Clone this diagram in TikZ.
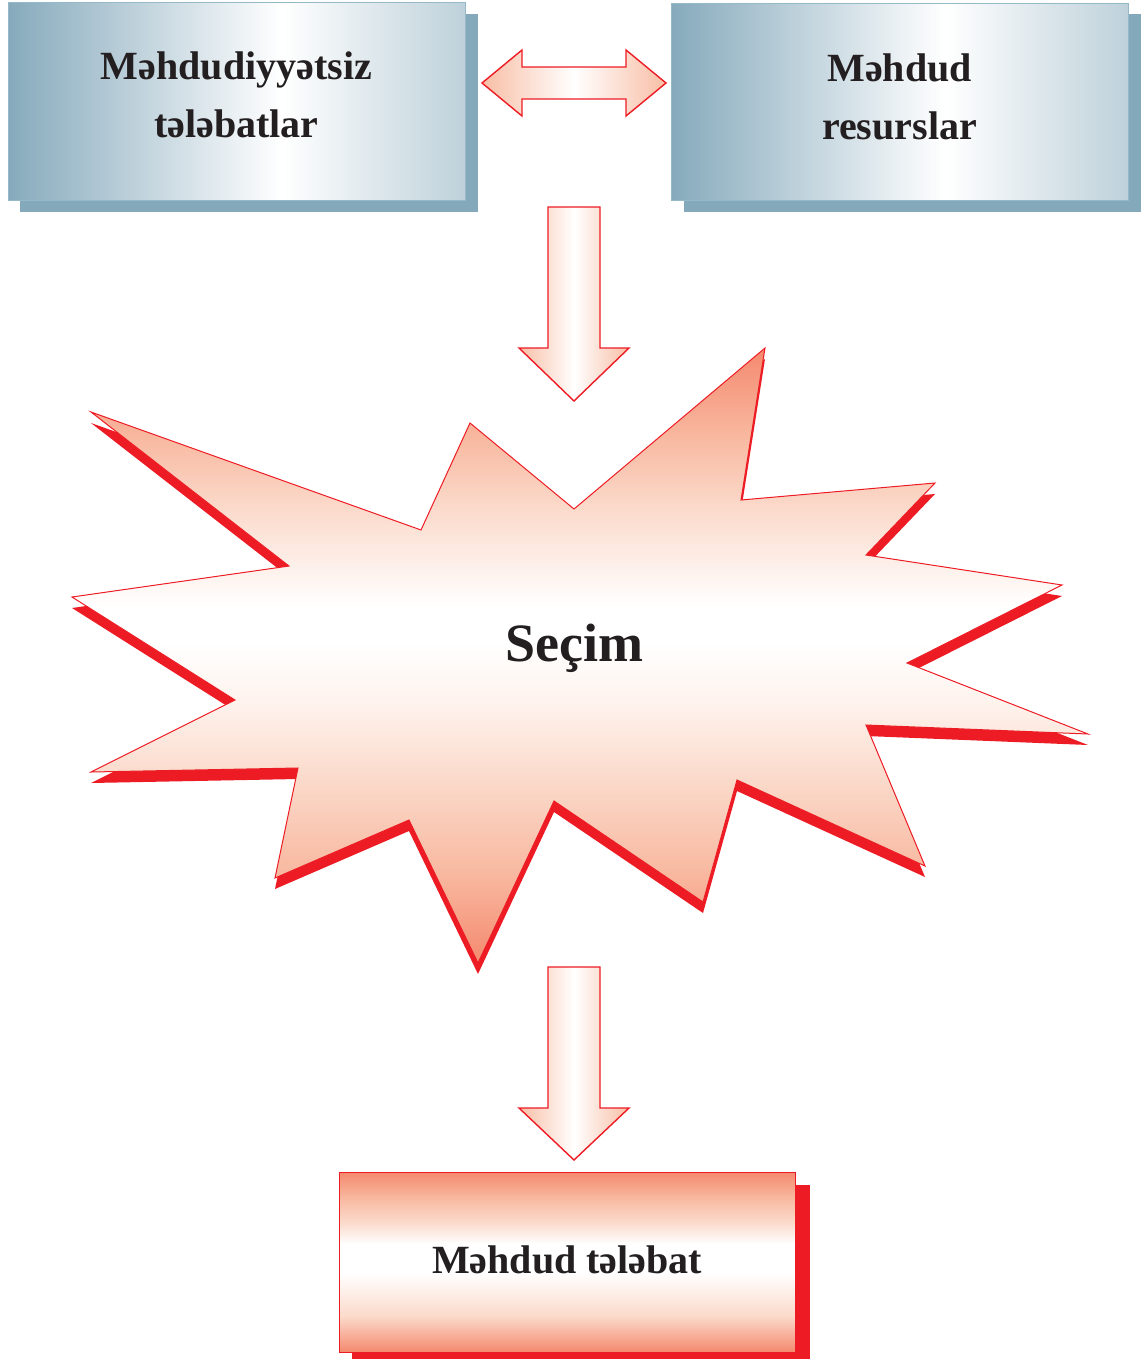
\documentclass[tikz,border=0pt]{standalone}
\usepackage{fontspec}
\setmainfont{Liberation Serif}
\definecolor{steel}{RGB}{134,170,188}
\definecolor{steellight}{RGB}{190,209,218}
\definecolor{steelshadow}{RGB}{132,169,186}
\definecolor{steelrim}{RGB}{150,185,200}
\definecolor{salmon}{RGB}{244,137,110}
\definecolor{salmonmid}{RGB}{248,183,158}
\definecolor{peach}{RGB}{251,218,203}
\definecolor{peachpale}{RGB}{254,242,236}
\definecolor{arrowsalmon}{RGB}{248,190,165}
\definecolor{redline}{RGB}{237,28,36}
\definecolor{inkdark}{RGB}{35,31,32}
% steel boxes: dark left edge, white a little right of centre, pale right edge
\pgfdeclarehorizontalshading{steelshade}{100bp}{color(0bp)=(steel); color(25bp)=(steel); color(55bp)=(white); color(75bp)=(steellight); color(100bp)=(steellight)}
% burst: salmon tips, white band just above the middle
\pgfdeclareverticalshading{burstshade}{100bp}{color(0bp)=(salmon); color(25bp)=(salmon); color(32bp)=(salmonmid); color(40bp)=(peach); color(46bp)=(peachpale); color(51bp)=(white); color(54bp)=(white); color(62bp)=(peach); color(68bp)=(salmonmid); color(75bp)=(salmon); color(100bp)=(salmon)}
% result box: salmon top and bottom, white band in the middle
\pgfdeclareverticalshading{resultshade}{100bp}{color(0bp)=(salmon); color(25bp)=(salmon); color(35bp)=(peach); color(47bp)=(white); color(55bp)=(white); color(61bp)=(peach); color(68bp)=(salmonmid); color(75bp)=(salmon); color(100bp)=(salmon)}
\begin{document}
\begin{tikzpicture}[x=0.5pt,y=-0.5pt,
  steelbox/.style={shading=steelshade, draw=steelrim, line width=0.5pt, inner sep=0pt},
  salmonbox/.style={shading=resultshade, draw=redline, line width=0.5pt, inner sep=0pt},
  boxtext/.style={font=\bfseries\fontsize{20}{29}\selectfont, text=inkdark, align=center, inner sep=0pt},
  blockarrow/.style={draw=redline, line width=0.7pt, left color=arrowsalmon, right color=arrowsalmon, middle color=white},
  burst/.style={draw=redline, line width=0.5pt, shading=burstshade},
  burstshadow/.style={fill=redline}]
\useasboundingbox (0,0) rectangle (1142,1359);

% top left box with its shadow
\fill[steelshadow] (20,14) rectangle (478,212);
\node[steelbox, minimum width=228.5pt, minimum height=98.5pt] (wants) at (236.5,101.5) {};
\node[boxtext] (wantstext) at (236.5,95) {Məhdudiyyətsiz\\tələbatlar};

% top right box with its shadow
\fill[steelshadow] (684,14) rectangle (1141,212);
\node[steelbox, minimum width=228.5pt, minimum height=98pt] (means) at (899.5,102) {};
\node[boxtext] (meanstext) at (899.5,97) {Məhdud\\resurslar};

% two-headed arrow between the boxes
\path[blockarrow] (482,83) -- (522,50) -- (522,67) -- (626,67) -- (626,50) -- (666,83)
  -- (626,116) -- (626,99) -- (522,99) -- (522,116) -- cycle;

% arrow down into the burst
\path[blockarrow] (548,207) -- (600,207) -- (600,348) -- (629,348) -- (574,401)
  -- (519,348) -- (548,348) -- cycle;

% burst: solid shadow first, shaded outline on top
\path[burstshadow, shift={(0,11)}] (91,412) -- (421,530) -- (470,423) -- (574,509) -- (765,348)
  -- (741,500) -- (935,483) -- (866,555) -- (1062,585) -- (907,663) -- (1088,734)
  -- (866,725) -- (925,866) -- (737,780) -- (703,902) -- (554,801) -- (478,963)
  -- (409,820) -- (275,878) -- (298,768) -- (91,772) -- (235,700) -- (72,597)
  -- (289,566) -- cycle;
\path[burst] (91,412) -- (421,530) -- (470,423) -- (574,509) -- (765,348)
  -- (741,500) -- (935,483) -- (866,555) -- (1062,585) -- (907,663) -- (1088,734)
  -- (866,725) -- (925,866) -- (737,780) -- (703,902) -- (554,801) -- (478,963)
  -- (409,820) -- (275,878) -- (298,768) -- (91,772) -- (235,700) -- (72,597)
  -- (289,566) -- cycle;
\node[font=\bfseries\fontsize{27}{32}\selectfont, text=inkdark, anchor=base, inner sep=0pt] (choice) at (574,661) {Seçim};

% arrow down to the result
\path[blockarrow] (548,967) -- (600,967) -- (600,1108) -- (629,1108) -- (574,1160)
  -- (519,1108) -- (548,1108) -- cycle;

% result box with its shadow
\fill[redline] (352,1185) rectangle (810,1359);
\node[salmonbox, minimum width=228pt, minimum height=90pt] (result) at (567,1262) {};
\node[boxtext] (resulttext) at (567,1260) {Məhdud tələbat};
\end{tikzpicture}
\end{document}
